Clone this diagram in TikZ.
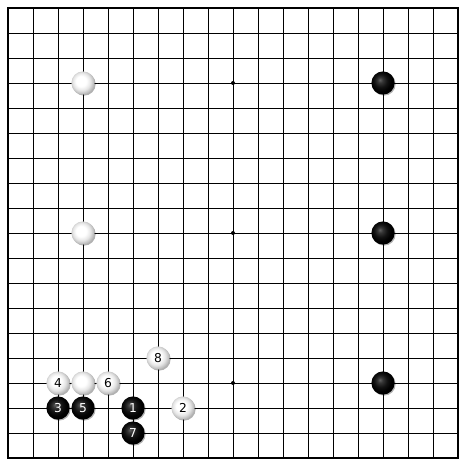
\documentclass[tikz,border=0pt]{standalone}
\usepackage{fontspec}
\setmainfont{DejaVu Sans}
\usetikzlibrary{shadows}
\pgfdeclareradialshading{blackstoneshade}{\pgfqpoint{-7bp}{7bp}}{%
  color(0bp)=(black!62!white);
  color(6bp)=(black!80!white);
  color(14bp)=(black!93!white);
  color(22bp)=(black);
  color(50bp)=(black)}
\pgfdeclareradialshading{whitestoneshade}{\pgfqpoint{-5bp}{5bp}}{%
  color(0bp)=(white);
  color(11bp)=(white);
  color(19bp)=(white!90!black);
  color(27bp)=(white!70!black);
  color(34bp)=(white!55!black);
  color(50bp)=(white!50!black)}
\begin{document}
\begin{tikzpicture}[x=0.75pt,y=-0.75pt,
  gridline/.style={line width=0.75pt, black},
  boardedge/.style={line width=1.6pt, black},
  stone/.style={circle, minimum size=17.4pt, inner sep=0pt,
    font=\fontsize{9.2}{9.2}\selectfont,
    drop shadow={shadow xshift=0.8pt, shadow yshift=-0.8pt, opacity=0.3, fill=black}},
  wstone/.style={stone, shading=whitestoneshade, text=black},
  bstone/.style={stone, shading=blackstoneshade, text=white},
  starpt/.style={circle, fill=black, inner sep=0pt, minimum size=3pt}]
\useasboundingbox (0,0) rectangle (470,471);
\fill[white] (0,0) rectangle (470,471);
\foreach \k in {1,...,17} {
  \draw[gridline] (8+25*\k,8) -- (8+25*\k,458);
  \draw[gridline] (8,8+25*\k) -- (458,8+25*\k);
}
\draw[boardedge] (8,8) rectangle (458,458);
% star points
\node[starpt] (s1) at (233,83) {};
\node[starpt] (s2) at (233,233) {};
\node[starpt] (s3) at (233,383) {};
% corner / side stones
\node[wstone] (wa) at (83,83) {};
\node[bstone] (ba) at (383,83) {};
\node[wstone] (wb) at (83,233) {};
\node[bstone] (bb) at (383,233) {};
\node[bstone] (bc) at (383,383) {};
\node[wstone] (wc) at (83,383) {};
% numbered moves
\node[bstone] (m1) at (133,408) {1};
\node[wstone] (m2) at (183,408) {2};
\node[bstone] (m3) at (58,408) {3};
\node[wstone] (m4) at (58,383) {4};
\node[bstone] (m5) at (83,408) {5};
\node[wstone] (m6) at (108,383) {6};
\node[bstone] (m7) at (133,433) {7};
\node[wstone] (m8) at (158,358) {8};
\end{tikzpicture}
\end{document}
